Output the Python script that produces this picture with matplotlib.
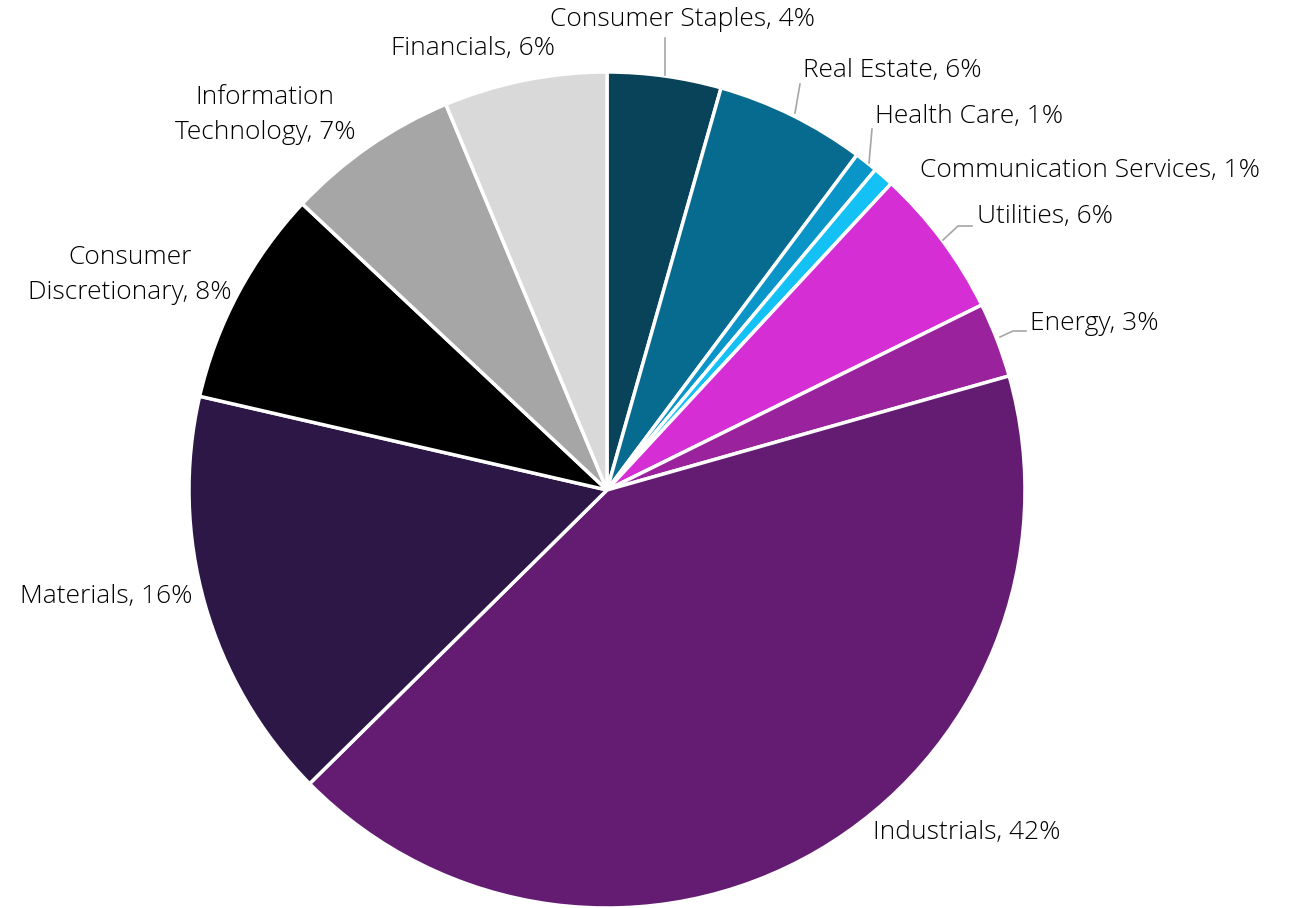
import matplotlib.pyplot as plt
import numpy as np

plt.rcParams['font.family'] = ['Open Sans', 'DejaVu Sans']

# sector weights, clockwise from 12 o'clock
sectors = ['Consumer Staples', 'Real Estate', 'Health Care', 'Communication Services',
           'Utilities', 'Energy', 'Industrials', 'Materials', 'Consumer\nDiscretionary',
           'Information\nTechnology', 'Financials']
weights = [4.4, 5.8, 0.9, 0.8, 5.8, 2.9, 42.0, 16.0, 8.4, 6.7, 6.3]
colors = ['#08435A', '#066B8E', '#0A95C8', '#14C1F5', '#D42ED4', '#9B229D',
          '#641C73', '#2C1747', '#000000', '#A6A6A6', '#D9D9D9']

W, H = 1293, 908
cx, cy, R = 607, 490, 418

fig = plt.figure(figsize=(W / 100, H / 100), dpi=100)
ax = fig.add_axes([0, 0, 1, 1])

ax.pie(weights, colors=colors, startangle=90, counterclock=False, radius=1.0,
       wedgeprops=dict(edgecolor='white', linewidth=2.5))

# pie() resets the limits, so set them afterwards
ax.set_xlim(-cx / R, (W - cx) / R)
ax.set_ylim(-(H - cy) / R, cy / R)
ax.set_aspect('equal')
ax.axis('off')


def px(x, y):
    # pixel position -> data coords
    return (x - cx) / R, (cy - y) / R


# label placement: (x px, y px, ha), leader line points in px or None
layout = [
    (683, 20, 'center', [(665, 38), (665, 75)]),
    (803, 70, 'left', [(800, 84), (795, 113)]),
    (875, 117, 'left', [(872, 129), (869, 163)]),
    (920, 171, 'left', None),
    (977, 216, 'left', [(972, 226), (958, 226), (943, 240)]),
    (1030, 323, 'left', [(1026, 331), (1013, 331), (1000, 337)]),
    (873, 833, 'left', None),
    (192, 597, 'right', None),
    (130, 275, 'center', None),
    (265, 115, 'center', None),
    (473, 48, 'center', None),
]

for name, w, (x, y, ha, lead) in zip(sectors, weights, layout):
    tx, ty = px(x, y)
    ax.text(tx, ty, f'{name}, {w:.0f}%', ha=ha, va='center', fontsize=19,
            fontweight='light', color='black', linespacing=1.5,
            multialignment='center')
    if lead:
        pts = np.array([px(a, b) for a, b in lead])
        ax.plot(pts[:, 0], pts[:, 1], color='#A6A6A6', linewidth=1.2)

fig.savefig('out.png', dpi=100, facecolor='white')
